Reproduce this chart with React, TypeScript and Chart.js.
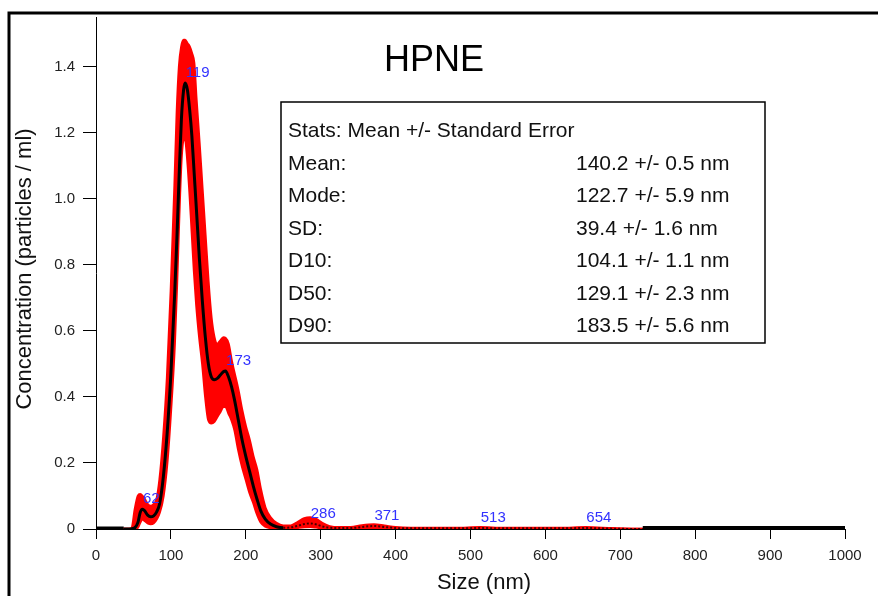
import React, { useEffect, useRef } from "react";
import { Chart, registerables } from "chart.js";

Chart.register(...registerables);

// ---- data ----
const sizes = [0, 20, 37, 44, 48, 52, 56, 59, 62, 65, 69, 73, 77, 81, 85, 90, 95, 100, 105, 108, 111, 114, 117, 119, 122, 125, 128, 131, 134, 138, 142, 146, 150, 154, 158, 162, 166, 170, 173, 177, 181, 185, 190, 195, 200, 205, 210, 215, 220, 226, 233, 241, 250, 260, 270, 278, 286, 294, 302, 312, 325, 340, 355, 371, 385, 400, 420, 445, 480, 513, 545, 580, 620, 654, 690, 730, 800, 900, 1000];
const meanConc = [0, 0, 0, 0, 0.001, 0.004, 0.02, 0.05, 0.06, 0.055, 0.042, 0.037, 0.04, 0.052, 0.077, 0.16, 0.29, 0.47, 0.71, 0.88, 1.07, 1.24, 1.33, 1.35, 1.33, 1.27, 1.19, 1.08, 0.97, 0.82, 0.69, 0.58, 0.50, 0.46, 0.452, 0.456, 0.466, 0.476, 0.478, 0.46, 0.43, 0.39, 0.33, 0.27, 0.22, 0.175, 0.13, 0.09, 0.055, 0.03, 0.015, 0.007, 0.004, 0.005, 0.01, 0.015, 0.017, 0.014, 0.008, 0.004, 0.003, 0.003, 0.006, 0.009, 0.006, 0.003, 0.002, 0.002, 0.002, 0.003, 0.002, 0.002, 0.002, 0.003, 0.001, 0, 0, 0, 0];
const upperConc = [0, 0, 0, 0, 0.004, 0.06, 0.10, 0.105, 0.10, 0.09, 0.075, 0.07, 0.075, 0.09, 0.15, 0.28, 0.46, 0.72, 1.04, 1.26, 1.40, 1.46, 1.48, 1.48, 1.47, 1.46, 1.44, 1.41, 1.30, 1.17, 1.03, 0.89, 0.75, 0.64, 0.58, 0.56, 0.57, 0.58, 0.578, 0.56, 0.51, 0.47, 0.42, 0.36, 0.31, 0.27, 0.22, 0.18, 0.12, 0.065, 0.035, 0.018, 0.01, 0.01, 0.022, 0.032, 0.035, 0.03, 0.018, 0.008, 0.005, 0.005, 0.011, 0.014, 0.01, 0.005, 0.003, 0.003, 0.003, 0.005, 0.003, 0.003, 0.003, 0.005, 0.002, 0, 0, 0, 0];
const lowerConc = [0, 0, 0, 0, 0, 0, 0.005, 0.02, 0.03, 0.025, 0.018, 0.015, 0.018, 0.03, 0.05, 0.10, 0.20, 0.36, 0.56, 0.74, 0.95, 1.12, 1.18, 1.18, 1.12, 1.02, 0.90, 0.78, 0.68, 0.58, 0.50, 0.40, 0.33, 0.32, 0.325, 0.34, 0.355, 0.37, 0.37, 0.35, 0.33, 0.30, 0.24, 0.19, 0.15, 0.11, 0.08, 0.045, 0.02, 0.008, 0.003, 0, 0, 0.001, 0.004, 0.006, 0.007, 0.005, 0.002, 0, 0, 0, 0.002, 0.004, 0.002, 0, 0, 0, 0, 0, 0, 0, 0, 0, 0, 0, 0, 0, 0];

const xTicks = [0, 100, 200, 300, 400, 500, 600, 700, 800, 900, 1000];
const yTicks = [0, 0.2, 0.4, 0.6, 0.8, 1.0, 1.2, 1.4];

const peakSizes = [62, 119, 173, 286, 371, 513, 654];
const peakConc = [0.06, 1.35, 0.478, 0.017, 0.009, 0.003, 0.003];

const chartTitle = "HPNE";
const xTitle = "Size (nm)";
const yTitle = "Concentration (particles / ml)";
const statsHeader = "Stats: Mean +/- Standard Error";
const statLabels = ["Mean:", "Mode:", "SD:", "D10:", "D50:", "D90:"];
const statValues = ["140.2 +/- 0.5 nm", "122.7 +/- 5.9 nm", "39.4 +/- 1.6 nm", "104.1 +/- 1.1 nm", "129.1 +/- 2.3 nm", "183.5 +/- 5.6 nm"];

const FONT = "'Liberation Sans', Arial, Helvetica, sans-serif";

const decorPlugin = {
  id: "decor",
  beforeDraw(chart: any) {
    const ctx = chart.ctx;
    ctx.save();
    ctx.fillStyle = "#ffffff";
    ctx.fillRect(0, 0, chart.width, chart.height);
    ctx.strokeStyle = "#000";
    ctx.lineWidth = 3;
    ctx.beginPath();
    ctx.moveTo(9, 600);
    ctx.lineTo(9, 13);
    ctx.lineTo(880, 13);
    ctx.stroke();
    ctx.restore();
  },
  afterDraw(chart: any) {
    const ctx = chart.ctx;
    const xs = chart.scales.x;
    const ys = chart.scales.y;
    ctx.save();
    // peak labels
    ctx.fillStyle = "rgb(50,50,255)";
    ctx.font = `15px ${FONT}`;
    ctx.textAlign = "left";
    ctx.textBaseline = "middle";
    peakSizes.forEach((s, i) => {
      const px = xs.getPixelForValue(s);
      const py = ys.getPixelForValue(peakConc[i]);
      ctx.fillText(String(s), px + 0.5, py - 10);
    });
    // title
    ctx.fillStyle = "#000";
    ctx.font = `36px ${FONT}`;
    ctx.textAlign = "center";
    ctx.textBaseline = "alphabetic";
    ctx.fillText(chartTitle, 434, 71);
    // axis titles
    ctx.fillStyle = "#111";
    ctx.font = `22px ${FONT}`;
    ctx.textBaseline = "middle";
    ctx.fillText(xTitle, 484, 583);
    ctx.save();
    ctx.translate(25, 269);
    ctx.rotate(-Math.PI / 2);
    ctx.fillText(yTitle, 0, 0);
    ctx.restore();
    // stats box
    ctx.fillStyle = "#fff";
    ctx.fillRect(281, 102, 484, 241);
    ctx.strokeStyle = "#000";
    ctx.lineWidth = 1.5;
    ctx.strokeRect(281, 102, 484, 241);
    ctx.fillStyle = "#111";
    ctx.font = `21px ${FONT}`;
    ctx.textAlign = "left";
    ctx.textBaseline = "alphabetic";
    ctx.fillText(statsHeader, 288, 137);
    statLabels.forEach((lab, i) => {
      const by = 137 + (i + 1) * 32.5;
      ctx.fillText(lab, 288, by);
      ctx.fillText(statValues[i], 576, by);
    });
    ctx.restore();
  },
};

export default function App() {
  const ref = useRef<HTMLCanvasElement | null>(null);
  useEffect(() => {
    if (!ref.current) return;
    const pts = (arr: number[]) => sizes.map((s, i) => ({ x: s, y: arr[i] }));
    const chart = new Chart(ref.current, {
      type: "line",
      data: {
        datasets: [
          {
            label: "mean",
            data: pts(meanConc),
            borderColor: "#000",
            borderWidth: 3,
            pointRadius: 0,
            cubicInterpolationMode: "monotone",
            fill: false,
            segment: {
              borderWidth: (c: any) => {
                const x = c.p0.parsed.x;
                if (x < 37) return 5;
                if (x >= 730) return 6;
                if (x >= 250) return 2;
                return 3;
              },
              borderColor: (c: any) => {
                const x = c.p0.parsed.x;
                if (x >= 250 && x < 730) return "rgb(70,0,0)";
                return "#000";
              },
              borderDash: (c: any) => {
                const x = c.p0.parsed.x;
                if (x >= 250 && x < 730) return [2, 2];
                return [];
              },
            },
          } as any,
          {
            label: "upper",
            data: pts(upperConc),
            borderColor: "#ff0000",
            backgroundColor: "#ff0000",
            borderWidth: 2.5,
            pointRadius: 0,
            cubicInterpolationMode: "monotone",
            fill: "+1",
          } as any,
          {
            label: "lower",
            data: pts(lowerConc),
            borderColor: "#ff0000",
            backgroundColor: "#ff0000",
            borderWidth: 2.5,
            pointRadius: 0,
            cubicInterpolationMode: "monotone",
            fill: false,
          } as any,
        ],
      },
      options: {
        responsive: false,
        animation: false,
        layout: { padding: { top: 14, right: 33, left: 0, bottom: 0 } },
        plugins: { legend: { display: false }, tooltip: { enabled: false }, title: { display: false } },
        scales: {
          x: {
            type: "linear",
            min: 0,
            max: 1000,
            afterBuildTicks: (s: any) => {
              s.ticks = xTicks.map((v) => ({ value: v }));
            },
            afterFit: (s: any) => {
              s.height = 67;
            },
            grid: { drawOnChartArea: false, drawTicks: true, tickLength: 10, tickColor: "#000", color: "#000" },
            border: { display: true, color: "#000", width: 1 },
            ticks: {
              font: { family: FONT, size: 15 },
              color: "#222",
              padding: 8,
              maxRotation: 0,
              autoSkip: false,
              callback: (v: any) => String(v),
            },
          },
          y: {
            type: "linear",
            min: 0,
            max: 1.55,
            afterBuildTicks: (s: any) => {
              s.ticks = yTicks.map((v) => ({ value: v }));
            },
            afterFit: (s: any) => {
              s.width = 96;
            },
            grid: { drawOnChartArea: false, drawTicks: true, tickLength: 13, tickColor: "#000", color: "#000" },
            border: { display: true, color: "#000", width: 1 },
            ticks: {
              font: { family: FONT, size: 15 },
              color: "#222",
              padding: 8,
              autoSkip: false,
              callback: (v: any) => (Number(v) === 0 ? "0" : Number(v).toFixed(1)),
            },
          },
        },
      } as any,
      plugins: [decorPlugin],
    });
    return () => chart.destroy();
  }, []);
  return (
    <div style={{ position: "absolute", left: 0, top: 0, width: 878, height: 596 }}>
      <canvas ref={ref} width={878} height={596} style={{ display: "block" }} />
    </div>
  );
}
